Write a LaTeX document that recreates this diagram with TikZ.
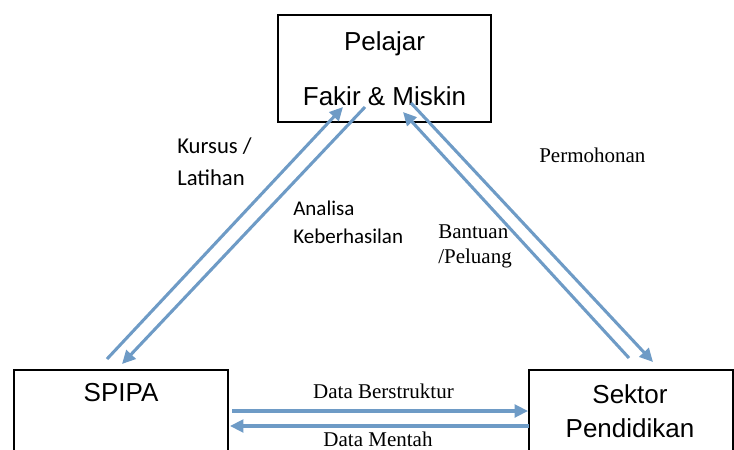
\documentclass[tikz,border=0pt]{standalone}
\usepackage{fontspec}
\setmainfont{Liberation Serif}
\newfontfamily\boxfont{Liberation Sans}
\newfontfamily\notefont{Carlito}
\usetikzlibrary{arrows.meta}
\usetikzlibrary{positioning}
\definecolor{flowblue}{RGB}{110,155,198}
\tikzset{flow/.style={-{Triangle[length=10pt,width=9.5pt]},line width=2.3pt,draw=flowblue},box/.style={rectangle, draw=black, line width=1.2pt},boxtext/.style={font=\boxfont\fontsize{19.5}{25.5}\selectfont, align=center},note/.style={font=\notefont\fontsize{17}{24}\selectfont, align=left, anchor=base west, inner sep=0pt},serifnote/.style={font=\fontsize{15.75}{18.75}\selectfont, align=left, anchor=base west, inner sep=0pt}}

\begin{document}
\begin{tikzpicture} [x=0.75pt, y=-0.75pt]

\path[use as bounding box, clip] (0,0) rectangle (734,449);

\node(pelajar) at (384.5, 68.5) [box, boxtext, minimum width=159.75pt, minimum height=80.25pt, font=\boxfont\fontsize{19.5}{41.25}\selectfont] {Pelajar\\Fakir \& Miskin};
\node(spipa) at (121, 369) [box, anchor=north, minimum width=160.5pt, minimum height=75pt] {};
\node(sektor) at (631, 369) [box, anchor=north, minimum width=153pt, minimum height=75pt] {};
\node(spipalabel) at (121, 393) [boxtext] {SPIPA};
\node(sektorlabel) at (630, 411) [boxtext] {Sektor\\Pendidikan};

% multi-line notes sit on the baseline of their last line
\node(kursus) at (177, 185) [note] {Kursus /\\Latihan};
\node(analisa) at (293, 243) [note, font=\notefont\fontsize{15.75}{21}\selectfont] {Analisa\\Keberhasilan};
\node(permohonan) at (539, 162) [serifnote] {Permohonan};
\node(bantuan) at (438, 263) [serifnote] {Bantuan\\/Peluang};
\node(berstruktur) at (383.5, 398) [serifnote, anchor=base] {Data Berstruktur};
\node(mentah) at (378, 446) [serifnote, anchor=base] {Data Mentah};

\coordinate(kursusA) at (107, 359);
\coordinate(kursusB) at (343, 107);
\coordinate(analisaA) at (365, 107);
\coordinate(analisaB) at (122, 364);
\coordinate(mohonA) at (411, 103);
\coordinate(mohonB) at (653, 362);
\coordinate(bantuA) at (629, 358);
\coordinate(bantuB) at (403, 112);
\coordinate(strukA) at (232, 411);
\coordinate(strukB) at (528, 411);
\coordinate(mentahA) at (529, 426);
\coordinate(mentahB) at (230, 426);

\draw (kursusA) edge[flow] (kursusB);
\draw (analisaA) edge[flow] (analisaB);
\draw (mohonA) edge[flow] (mohonB);
\draw (bantuA) edge[flow] (bantuB);
\draw (strukA) edge[flow] (strukB);
\draw (mentahA) edge[flow] (mentahB);

\end{tikzpicture}
\end{document}
